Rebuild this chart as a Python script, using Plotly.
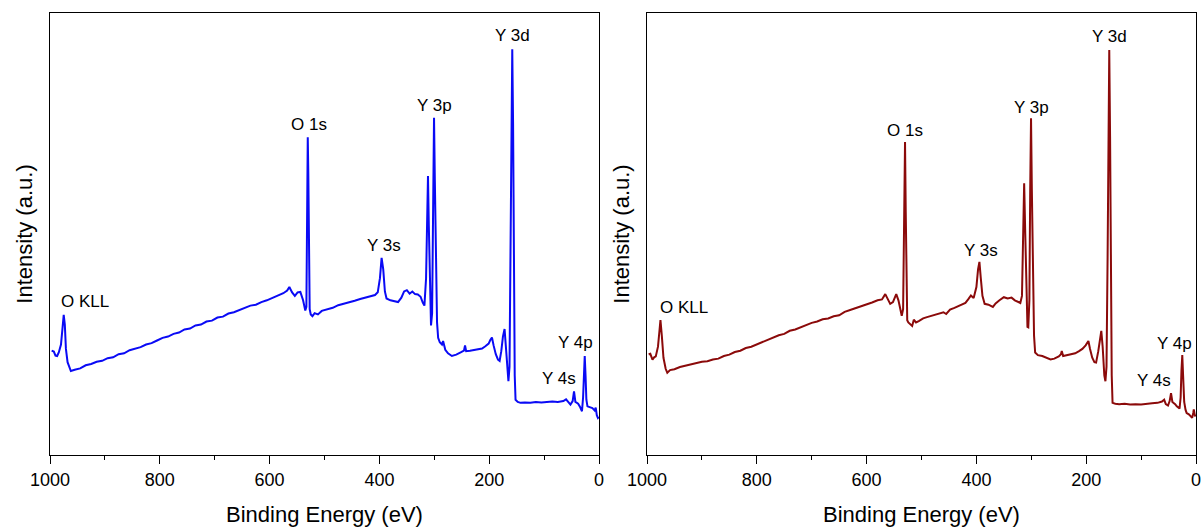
import plotly.graph_objects as go

# ---------------- data ----------------
be_a = [997, 993, 990, 987, 984, 980, 977, 975, 973, 971, 968, 965, 962,
        955, 945, 935, 925, 915, 905, 895, 885, 875, 865, 855, 845, 835, 825, 815, 805,
        795, 785, 775, 765, 755, 745, 735, 725, 715, 705, 695, 685, 675, 665, 655, 645,
        635, 625, 615, 605, 595, 585, 575, 568, 564, 559, 554, 549, 544, 539, 535, 533,
        531.5, 530.5, 529.5, 528.5, 527, 525, 522, 518, 512, 505, 495, 485, 475, 465,
        455, 445, 435, 425, 415, 408, 403, 399, 396, 393, 390, 387, 380, 372, 366, 360,
        355, 350, 345, 340, 335, 330, 325, 321, 318, 315, 313, 311.5, 310, 308, 306, 304,
        302, 300.5, 299, 297, 295, 293, 290, 286, 284, 280, 275, 268, 260, 252, 246, 244,
        242, 235, 228, 220, 213, 207, 201, 198, 195, 192, 188, 184, 181, 178, 175, 172,
        170, 167, 165, 163, 161, 159.5, 158, 156.5, 155, 153.5, 152, 148, 143, 135, 125,
        115, 105, 95, 85, 75, 65, 60, 56, 52, 48, 45.5, 43, 38, 35, 31, 29, 27.5, 26,
        24.5, 23, 21, 17, 12, 8, 6, 4, 2, 0.5]
int_a = [23.6, 23.4, 22.5, 22.4, 23.2, 25.0, 29.0, 31.7, 29.5, 24.0, 21.0, 19.7, 19.0,
         19.3, 19.6, 20.3, 20.6, 21.1, 21.3, 21.9, 22.1, 22.8, 23.0, 23.7, 24.1, 24.4, 25.0, 25.3, 25.9,
         26.5, 26.8, 27.4, 27.7, 28.4, 28.6, 29.3, 29.5, 30.2, 30.4, 31.1, 31.3, 32.0, 32.3, 32.8, 33.2,
         33.8, 34.0, 34.6, 35.0, 35.5, 36.0, 36.6, 37.2, 38.0, 36.8, 36.0, 36.8, 36.9, 35.0, 32.7, 33.5,
         50.0, 71.9, 64.0, 45.0, 33.0, 31.8, 31.4, 32.1, 31.8, 32.6, 33.0, 33.3, 33.9, 34.2,
         34.6, 34.9, 35.3, 35.6, 35.9, 36.2, 36.8, 40.0, 44.6, 42.0, 37.0, 35.4, 35.0, 34.7, 34.6, 35.6,
         37.0, 37.3, 36.5, 37.0, 36.4, 36.3, 35.8, 34.5, 33.8, 40.0, 58.0, 63.1, 52.0, 35.0, 29.3, 32.0,
         60.0, 76.3, 62.0, 40.0, 30.0, 26.5, 25.5, 25.0, 25.8, 23.8, 23.0, 22.4, 22.7, 23.2, 23.6, 24.8,
         23.5, 23.6, 23.8, 24.0, 24.1, 24.6, 25.2, 26.0, 26.6, 24.8, 22.8, 21.6, 21.3, 23.5, 26.8, 28.5,
         25.5, 20.0, 16.7, 20.0, 45.0, 70.0, 91.8, 75.0, 40.0, 18.0, 12.5, 12.0, 11.8, 11.9, 11.8,
         12.0, 11.9, 12.0, 12.1, 12.0, 12.2, 12.6, 12.0, 11.4, 12.2, 14.4, 12.0, 11.6, 11.0, 9.9, 13.0, 20.0, 22.4,
         18.0, 12.5, 11.0, 10.8, 10.6, 10.1, 10.7, 9.0, 8.4, 8.6]

be_b = [997, 994, 990, 987, 984, 980, 977, 975.5, 973, 970, 966, 963, 958,
        950, 940, 930, 920, 910, 900, 890, 880, 870, 860, 850, 840, 830, 820, 810, 800,
        790, 780, 770, 760, 750, 740, 730, 720, 710, 700, 690, 680, 670, 660, 650, 640,
        630, 620, 610, 600, 590, 580, 572, 566, 562, 557, 552, 546, 542, 538, 536, 533.5,
        531.5, 530, 528.7, 527.5, 526, 524, 520, 517, 514, 510, 505, 497, 490, 480, 470,
        460, 455, 448, 440, 430, 420, 415, 410, 405, 400, 397, 394.5, 392, 389, 385, 378,
        370, 365, 358, 350, 343, 336, 330, 325, 320, 317, 315, 313, 311, 309, 307, 305.5,
        303.5, 302, 300.5, 299, 297, 295, 293, 288, 280, 272, 265, 258, 250, 246, 244.5,
        242, 235, 228, 220, 213, 207, 201, 198, 196, 193, 189, 185, 182, 178, 175, 172.5,
        170, 167, 165, 163, 161, 159.5, 158, 156.5, 155, 153.5, 152, 147, 140, 130, 120,
        110, 100, 90, 80, 70, 62, 58, 55, 51, 48, 45.5, 43, 38, 35, 30, 28, 26.5, 25,
        23.5, 21.5, 19, 17, 13, 10, 7, 5, 4, 2.5, 1]
int_b = [22.8, 22.9, 21.6, 22.1, 22.3, 24.5, 28.5, 30.5, 27.0, 22.0, 19.5, 18.6, 19.2,
         19.4, 19.9, 20.2, 20.5, 20.7, 21.1, 21.2, 21.6, 21.8, 22.4, 22.7, 23.3, 23.6, 24.2, 24.5, 25.0,
         25.5, 26.0, 26.6, 27.1, 27.4, 28.1, 28.4, 28.9, 29.3, 29.9, 30.2, 30.7, 30.9, 31.4, 31.6, 32.4,
         32.8, 33.2, 33.6, 34.0, 34.5, 35.0, 35.2, 36.4, 35.5, 34.2, 34.6, 36.4, 35.0, 32.0, 31.5, 33.0,
         55.0, 70.8, 55.0, 35.0, 30.5, 30.0, 29.5, 29.2, 30.6, 30.0, 30.3, 30.9, 31.2, 31.6, 32.0,
         32.3, 31.9, 32.9, 33.3, 33.8, 34.4, 35.2, 36.1, 35.5, 38.0, 42.0, 43.7, 40.0, 36.0, 34.2, 34.0,
         33.5, 34.3, 35.0, 35.7, 35.4, 35.6, 35.0, 34.6, 34.4, 36.0, 48.0, 61.5, 50.0, 36.0, 29.0, 28.9,
         35.0, 60.0, 76.2, 60.0, 38.0, 27.0, 23.2, 22.6, 22.4, 22.0, 21.6, 21.8, 22.3, 22.8, 23.5,
         22.4, 22.6, 22.8, 23.0, 23.5, 24.0, 24.8, 25.5, 25.8, 24.0, 22.0, 21.0, 20.9, 23.5, 26.5, 28.1,
         24.5, 18.0, 16.7, 20.0, 45.0, 70.0, 91.6, 72.0, 38.0, 18.0, 11.8, 11.6, 11.5, 11.6, 11.4,
         11.5, 11.4, 11.6, 11.7, 11.8, 12.1, 12.5, 11.5, 11.2, 12.2, 14.0, 12.0, 11.5, 11.0, 10.5, 13.0, 19.0, 22.6,
         18.0, 12.0, 10.2, 9.5, 9.2, 8.8, 8.4, 9.5, 10.3, 9.2, 8.7]

peak_labels = ["O KLL", "O 1s", "Y 3s", "Y 3p", "Y 3d", "Y 4s", "Y 4p"]
label_be_a = [936, 528, 392, 300, 157, 72, 42]
label_int_a = [34.8, 74.8, 47.4, 79.1, 95.0, 17.3, 25.5]
label_be_b = [933, 530, 392, 300, 158, 76, 39]
label_int_b = [33.4, 73.4, 46.3, 78.6, 94.7, 16.9, 25.3]

x_tickvals = [1000, 800, 600, 400, 200, 0]
x_ticktext = ["1000", "800", "600", "400", "200", "0"]
x_title = "Binding Energy (eV)"
y_title = "Intensity (a.u.)"

# ---------------- figure ----------------
FONT = "Arial, 'Liberation Sans', sans-serif"
W, H = 1203, 527

fig = go.Figure()
fig.add_trace(go.Scatter(x=be_a, y=int_a, mode="lines",
                         line=dict(color="#0A0AF5", width=2), xaxis="x", yaxis="y",
                         showlegend=False))
fig.add_trace(go.Scatter(x=be_b, y=int_b, mode="lines",
                         line=dict(color="#8B0A0A", width=2), xaxis="x2", yaxis="y2",
                         showlegend=False))

ydom = [1 - 455 / H, 1 - 13 / H]
xdom1 = [50 / W, 599 / W]
xdom2 = [647 / W, 1196 / W]

xcommon = dict(range=[1000, 0], tickvals=x_tickvals, ticktext=x_ticktext,
               ticks="outside", ticklen=8, tickwidth=1.3, tickcolor="#000",
               minor=dict(ticks="outside", ticklen=4, tickwidth=1.3, tickcolor="#000", dtick=100),
               showline=True, linecolor="#000", linewidth=1.3, mirror=True,
               showgrid=False, zeroline=False, automargin=False,
               tickfont=dict(family=FONT, size=18, color="#000"),
               title=dict(text=x_title, font=dict(family=FONT, size=22, color="#000"), standoff=17))
ycommon = dict(range=[0, 100], showticklabels=False, ticks="",
               showline=True, linecolor="#000", linewidth=1.3, mirror=True,
               showgrid=False, zeroline=False, automargin=False,
               title=dict(text=y_title, font=dict(family=FONT, size=22, color="#000"), standoff=10))

fig.update_layout(
    width=W, height=H,
    margin=dict(l=0, r=0, t=0, b=0),
    paper_bgcolor="white", plot_bgcolor="white",
    xaxis=dict(domain=xdom1, anchor="y", **xcommon),
    yaxis=dict(domain=ydom, anchor="x", **ycommon),
    xaxis2=dict(domain=xdom2, anchor="y2", **xcommon),
    yaxis2=dict(domain=ydom, anchor="x2", **ycommon),
)

for lab, bx, iy in zip(peak_labels, label_be_a, label_int_a):
    fig.add_annotation(x=bx, y=iy, xref="x", yref="y", text=lab, showarrow=False,
                       font=dict(family=FONT, size=17, color="#000"))
for lab, bx, iy in zip(peak_labels, label_be_b, label_int_b):
    fig.add_annotation(x=bx, y=iy, xref="x2", yref="y2", text=lab, showarrow=False,
                       font=dict(family=FONT, size=17, color="#000"))

fig.write_html("out.html", config={"displayModeBar": False},
               post_script="document.body.style.margin='0';document.body.style.overflow='hidden';")
